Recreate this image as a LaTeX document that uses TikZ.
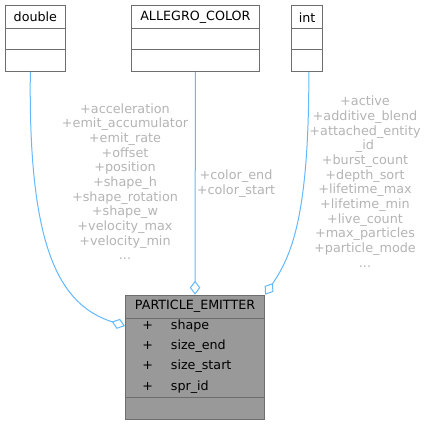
\documentclass[tikz,border=0pt]{standalone}
\usepackage{fontspec}
\setmainfont{DejaVu Sans}
\usetikzlibrary{arrows.meta}
\definecolor{edgeblue}{HTML}{63B8FF}
\definecolor{boxline}{HTML}{6E6E6E}
\definecolor{lblgray}{HTML}{B4B4B4}
\definecolor{pefill}{HTML}{999999}
\tikzset{
  cell/.style={draw=boxline, line width=1.1pt, fill=white, inner sep=0pt, anchor=north west, font=\fontsize{12.7}{14.67}\selectfont},
  pecell/.style={cell, fill=pefill},
  lbl/.style={align=center, inner sep=0pt, anchor=north, text=lblgray, font=\fontsize{12.8}{14.67}\selectfont},
  agg/.style={draw=edgeblue, line width=1pt, -{Diamond[open, length=14pt, width=10.5pt, line width=1pt]}},
  attr/.style={inner sep=0pt, font=\fontsize{12.7}{14.67}\selectfont}
}
\begin{document}
\begin{tikzpicture}[x=1pt, y=-1pt]
\useasboundingbox (0,0) rectangle (427,425);
% double
\node[cell, minimum width=59.6pt, minimum height=23.3pt] (dblt) at (5,5) {double};
\node[cell, minimum width=59.6pt, minimum height=20.4pt] (dbla) at (5,28.3) {};
\node[cell, minimum width=59.6pt, minimum height=22pt] (dblm) at (5,48.7) {};
% ALLEGRO_COLOR
\node[cell, minimum width=127.7pt, minimum height=23.3pt] (act) at (131,5) {ALLEGRO\_COLOR};
\node[cell, minimum width=127.7pt, minimum height=20.4pt] (aca) at (131,28.3) {};
\node[cell, minimum width=127.7pt, minimum height=22pt] (acm) at (131,48.7) {};
% int
\node[cell, minimum width=31.6pt, minimum height=23.3pt] (intt) at (290.7,5) {int};
\node[cell, minimum width=31.6pt, minimum height=20.4pt] (inta) at (290.7,28.3) {};
\node[cell, minimum width=31.6pt, minimum height=22pt] (intm) at (290.7,48.7) {};
% PARTICLE_EMITTER
\node[pecell, minimum width=139pt, minimum height=23pt] (pet) at (125,294.7) {PARTICLE\_EMITTER};
\node[pecell, minimum width=139pt, minimum height=79.6pt] (pea) at (125,317.7) {};
\node[pecell, minimum width=139pt, minimum height=22pt] (pem) at (125,397.3) {};
\foreach \n/\t/\y in {a1/shape/325.7, a2/size\_end/346, a3/size\_start/366, a4/spr\_id/386.7}{
  \node[attr] (p\n) at (147.7,\y) {+};
  \node[attr, anchor=west] (n\n) at (170.7,\y) {\vphantom{+}\t};
}
% edges
\coordinate (dstart) at ([xshift=-5pt]dblm.south);
\coordinate (istart) at ([xshift=1.8pt]intm.south);
\coordinate (dend) at (125,326);
\draw[agg] (dstart) .. controls (28,250) and (60,305) .. (dend);
\draw[agg] (acm.south) -- (pet.north);
\draw[agg] (istart) .. controls (309,215) and (292,255) .. (pet.north east);
% labels
\node[lbl] (l1) at (125,103.3) {+acceleration\\+emit\_accumulator\\+emit\_rate\\+offset\\+position\\+shape\_h\\+shape\_rotation\\+shape\_w\\+velocity\_max\\+velocity\_min\\...};
\node[lbl] (l2) at (236,169.5) {+color\_end\\+color\_start};
\node[lbl] (l3) at (365,96) {+active\\+additive\_blend\\+attached\_entity\\\_id\\+burst\_count\\+depth\_sort\\+lifetime\_max\\+lifetime\_min\\+live\_count\\+max\_particles\\+particle\_mode\\...};
\end{tikzpicture}
\end{document}
